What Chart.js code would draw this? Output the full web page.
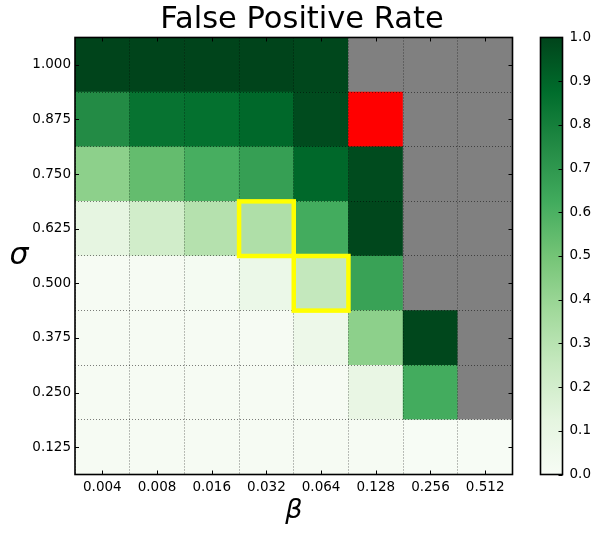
<!DOCTYPE html>
<html><head><meta charset="utf-8">
<script src="https://cdn.jsdelivr.net/npm/chart.js@4/dist/chart.umd.min.js"></script>
<style>html,body{margin:0;padding:0;background:#fff;} #wrap{width:604px;height:533px;}</style>
</head><body><div id="wrap"><canvas id="c" width="604" height="533"></canvas></div>
<script>
// ---- data ----
const betaLabels  = ['0.004','0.008','0.016','0.032','0.064','0.128','0.256','0.512'];
const sigmaLabels = ['0.125','0.250','0.375','0.500','0.625','0.750','0.875','1.000'];
// false positive rate per sigma row across beta columns (null = not evaluated, gray)
const fpr_0125 = [0.01, 0.01, 0.01, 0.01, 0.01, 0.01, 0.00, 0.00];
const fpr_0250 = [0.01, 0.01, 0.01, 0.01, 0.01, 0.10, 0.62, null];
const fpr_0375 = [0.01, 0.01, 0.01, 0.01, 0.07, 0.43, 0.99, null];
const fpr_0500 = [0.01, 0.01, 0.02, 0.08, 0.26, 0.66, null, null];
const fpr_0625 = [0.12, 0.21, 0.31, 0.33, 0.62, 0.99, null, null];
const fpr_0750 = [0.43, 0.54, 0.61, 0.67, 0.89, 0.98, null, null];
const fpr_0875 = [0.75, 0.85, 0.86, 0.89, 0.98, null, null, null];
const fpr_1000 = [1.00, 1.00, 1.00, 1.00, 0.99, null, null, null];
const redCells       = [['0.128','0.875']];
const highlightCells = [['0.032','0.625'], ['0.064','0.500']];
const colorbarTicks  = [0.0,0.1,0.2,0.3,0.4,0.5,0.6,0.7,0.8,0.9,1.0];

const rows = [fpr_0125, fpr_0250, fpr_0375, fpr_0500, fpr_0625, fpr_0750, fpr_0875, fpr_1000];

// matplotlib "Greens"
const GREENS = [[247,252,245],[229,245,224],[199,233,192],[161,217,155],[116,196,118],[65,171,93],[35,139,69],[0,109,44],[0,68,27]];
function greens(v){
  v = Math.max(0, Math.min(1, v));
  const p = v * (GREENS.length - 1), i = Math.min(Math.floor(p), GREENS.length - 2), f = p - i;
  const a = GREENS[i], b = GREENS[i+1];
  return 'rgb(' + a.map((c,k)=>Math.round(c + (b[k]-c)*f)).join(',') + ')';
}
function cellColor(r, c){
  if (redCells.some(([b,s]) => b === betaLabels[c] && s === sigmaLabels[r])) return '#ff0000';
  const v = rows[r][c];
  return v == null ? '#808080' : greens(v);
}

const FONT = '"DejaVu Sans", "Bitstream Vera Sans", sans-serif';

const datasets = sigmaLabels.map((s, r) => ({
  label: s,
  data: betaLabels.map(() => 1),
  backgroundColor: betaLabels.map((_, c) => cellColor(r, c)),
  borderWidth: 0,
  barPercentage: 1,
  categoryPercentage: 1,
  stack: 'grid'
}));

const decor = {
  id: 'decor',
  afterDraw(chart){
    const ctx = chart.ctx, xs = chart.scales.x, ys = chart.scales.y, cb = chart.scales.cb, ca = chart.chartArea;
    ctx.save();
    // highlighted cells
    ctx.strokeStyle = '#ffff00';
    ctx.lineWidth = 4.5;
    highlightCells.forEach(([b, s]) => {
      const c = betaLabels.indexOf(b), r = sigmaLabels.indexOf(s);
      const x0 = xs.getPixelForValue(c - 0.5), x1 = xs.getPixelForValue(c + 0.5);
      const y0 = ys.getPixelForValue(r + 1), y1 = ys.getPixelForValue(r);
      ctx.strokeRect(x0, y0, x1 - x0, y1 - y0);
    });
    // tick marks (inward)
    ctx.strokeStyle = '#000';
    ctx.lineWidth = 1;
    ctx.beginPath();
    betaLabels.forEach((_, c) => {
      const px = Math.round(xs.getPixelForValue(c)) + 0.5;
      ctx.moveTo(px, ca.bottom); ctx.lineTo(px, ca.bottom - 4);
      ctx.moveTo(px, ca.top);    ctx.lineTo(px, ca.top + 4);
    });
    sigmaLabels.forEach((_, r) => {
      const py = Math.round(ys.getPixelForValue(r + 0.5)) + 0.5;
      ctx.moveTo(ca.left, py);  ctx.lineTo(ca.left + 4, py);
      ctx.moveTo(ca.right, py); ctx.lineTo(ca.right - 4, py);
    });
    ctx.stroke();
    // frame
    ctx.lineWidth = 1.6;
    ctx.strokeRect(ca.left, ca.top, ca.right - ca.left, ca.bottom - ca.top);
    // colorbar
    const cbL = 540.5, cbR = 562.5;
    const cTop = cb.getPixelForValue(1), cBot = cb.getPixelForValue(0);
    const g = ctx.createLinearGradient(0, cBot, 0, cTop);
    GREENS.forEach((col, i) => g.addColorStop(i / (GREENS.length - 1), 'rgb(' + col.join(',') + ')'));
    ctx.fillStyle = g;
    ctx.fillRect(cbL, cTop, cbR - cbL, cBot - cTop);
    ctx.lineWidth = 1;
    ctx.beginPath();
    colorbarTicks.forEach(v => {
      const py = Math.round(cb.getPixelForValue(v)) + 0.5;
      ctx.moveTo(cbR, py); ctx.lineTo(cbR - 4, py);
    });
    ctx.stroke();
    ctx.lineWidth = 1.6;
    ctx.strokeRect(cbL, cTop, cbR - cbL, cBot - cTop);
    // sigma label (upright, not rotated)
    ctx.fillStyle = '#000';
    ctx.font = 'italic 30px ' + FONT;
    ctx.textAlign = 'center';
    ctx.textBaseline = 'middle';
    ctx.fillText('σ', 19, (ca.top + ca.bottom) / 2);
    ctx.restore();
  }
};

const tickFont = { family: FONT, size: 13.5 };
const gridOpts = { display: true, offset: true, drawTicks: false, z: 1, color: 'rgba(0,0,0,0.5)', lineWidth: 1 };

new Chart(document.getElementById('c'), {
  type: 'bar',
  data: { labels: betaLabels, datasets },
  options: {
    responsive: false,
    animation: false,
    devicePixelRatio: 1,
    layout: { padding: 0 },
    plugins: {
      legend: { display: false },
      tooltip: { enabled: false },
      title: {
        display: true,
        text: 'False Positive Rate',
        color: '#000',
        font: { family: FONT, size: 30.5, weight: 'normal', lineHeight: 1.15 },
        padding: { top: 2.4, bottom: 0 }
      }
    },
    scales: {
      x: {
        type: 'category',
        stacked: true,
        offset: true,
        grid: gridOpts,
        border: { display: false, dash: [1, 2] },
        ticks: { font: tickFont, color: '#000', padding: 5, maxRotation: 0, autoSkip: false },
        title: { display: true, text: 'β', color: '#000', font: { family: FONT, size: 27, style: 'italic', lineHeight: 1.2 }, padding: { top: 0, bottom: 6 } },
        afterFit(s){ s.height = 58.5; s.paddingLeft = 0; s.paddingRight = 0; }
      },
      y: {
        type: 'linear',
        stacked: true,
        min: 0, max: 8,
        grid: gridOpts,
        border: { display: false, dash: [1, 2] },
        afterBuildTicks(s){ s.ticks = sigmaLabels.map((_, i) => ({ value: i + 0.5 })); },
        ticks: { font: tickFont, color: '#000', padding: 4, autoSkip: false, callback: (v, i) => sigmaLabels[i] },
        afterFit(s){ s.width = 75; s.paddingTop = 8; s.paddingBottom = 8; }
      },
      cb: {
        type: 'linear',
        position: 'right',
        display: true,
        min: 0, max: 1,
        grid: { display: false, drawTicks: false },
        border: { display: false },
        afterBuildTicks(s){ s.ticks = colorbarTicks.map(v => ({ value: v })); },
        ticks: { font: tickFont, color: '#000', padding: 57, autoSkip: false, callback: v => v.toFixed(1) },
        afterFit(s){ s.width = 91.5; s.paddingTop = 8; s.paddingBottom = 8; }
      }
    }
  },
  plugins: [decor]
});
</script>
</body></html>
